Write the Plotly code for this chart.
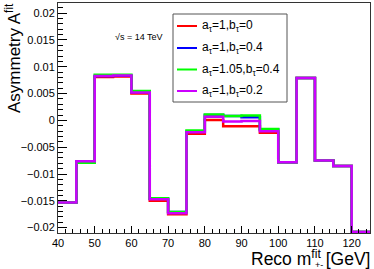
import plotly.graph_objects as go

# ---- data ----
bin_edges = [40, 45, 50, 55, 60, 65, 70, 75, 80, 85, 90, 95, 100, 105, 110, 115, 120, 125]
red_vals = [-0.0153, -0.0077, 0.0081, 0.0082, 0.0050, -0.0150, -0.0175, -0.0025, 0.0001,
            -0.0011, -0.0011, -0.0023, -0.0078, 0.0079, -0.0075, -0.0085, -0.0208]
blue_vals = [-0.0153, -0.0077, 0.0083, 0.0084, 0.0053, -0.0146, -0.0171, -0.0021, 0.0010,
             0.0008, 0.0006, -0.0017, -0.0078, 0.0079, -0.0075, -0.0085, -0.0208]
green_vals = [-0.0153, -0.0079, 0.0085, 0.0085, 0.0055, -0.0145, -0.0171, -0.0019, 0.0011,
              0.0008, 0.0009, -0.0016, -0.0078, 0.0079, -0.0075, -0.0085, -0.0208]
magenta_vals = [-0.0153, -0.0076, 0.0083, 0.0084, 0.0052, -0.0147, -0.0173, -0.0022, 0.0007,
                -0.0002, -0.0001, -0.0020, -0.0078, 0.0079, -0.0075, -0.0085, -0.0208]

series_names = ["a<sub>τ</sub>=1,b<sub>τ</sub>=0",
                "a<sub>τ</sub>=1,b<sub>τ</sub>=0.4",
                "a<sub>τ</sub>=1.05,b<sub>τ</sub>=0.4",
                "a<sub>τ</sub>=1,b<sub>τ</sub>=0.2"]
series_vals = [red_vals, blue_vals, green_vals, magenta_vals]
series_colors = ["#ff0000", "#0000ff", "#00ff00", "#cc00ff"]

y_tickvals = [-0.02, -0.015, -0.01, -0.005, 0, 0.005, 0.01, 0.015, 0.02]
y_ticktext = ["\u22120.02", "\u22120.015", "\u22120.01", "\u22120.005", "0",
              "0.005", "0.01", "0.015", "0.02"]
x_tickvals = [40, 50, 60, 70, 80, 90, 100, 110, 120]

FONT = "Liberation Sans, Arial, Helvetica, sans-serif"
W, H = 374, 269
L, R, T, B = 58, 4, 3, 36
PW, PH = W - L - R, H - T - B


def px_x(px):
    return (px - L) / PW


def px_y(py):
    return (H - B - py) / PH


fig = go.Figure()
for name, vals, col in zip(series_names, series_vals, series_colors):
    fig.add_trace(go.Scatter(
        x=bin_edges, y=vals + [vals[-1]], mode="lines", line_shape="hv",
        line=dict(color=col, width=2.5), name=name, showlegend=False,
        hoverinfo="skip"))

fig.update_layout(
    width=W, height=H, margin=dict(l=L, r=R, t=T, b=B, pad=0),
    paper_bgcolor="white", plot_bgcolor="white",
    font=dict(family=FONT, size=11, color="black"),
    showlegend=False,
)
fig.update_xaxes(
    range=[40, 125], showgrid=False, zeroline=False,
    showline=True, linecolor="#333333", linewidth=1, mirror=True,
    ticks="inside", ticklen=7, tickcolor="black", tickwidth=1,
    tickvals=x_tickvals, tickfont=dict(size=11),
    minor=dict(ticks="inside", ticklen=4, dtick=2, tick0=40, tickcolor="black", showgrid=False),
)
fig.update_yaxes(
    range=[-0.021, 0.0219], showgrid=False, zeroline=False,
    showline=True, linecolor="#333333", linewidth=1, mirror=True,
    ticks="inside", ticklen=9, tickcolor="black", tickwidth=1,
    tickvals=y_tickvals, ticktext=y_ticktext, tickfont=dict(size=11),
    minor=dict(ticks="inside", ticklen=5, dtick=0.001, tick0=0, tickcolor="black", showgrid=False),
)

annotations = []
# y-axis title
annotations.append(dict(
    text="Asymmetry A<sup>fit</sup>", textangle=-90, xref="paper", yref="paper",
    x=px_x(13), y=px_y(1), xanchor="center", yanchor="top", showarrow=False,
    font=dict(size=17, family=FONT)))
# x-axis title
annotations.append(dict(
    text="Reco m<sup>fit</sup> [GeV]", xref="paper", yref="paper",
    x=px_x(372), y=px_y(271), xanchor="right", yanchor="bottom", showarrow=False,
    font=dict(size=17.5, family=FONT)))
annotations.append(dict(
    text="+-", xref="paper", yref="paper",
    x=px_x(313), y=px_y(272), xanchor="left", yanchor="bottom", showarrow=False,
    font=dict(size=9, family=FONT)))
# energy label
annotations.append(dict(
    text="\u221As = 14 TeV", xref="paper", yref="paper",
    x=px_x(165), y=px_y(37), xanchor="right", yanchor="middle", showarrow=False,
    font=dict(size=9, family=FONT)))

shapes = []
# legend box
lx0, lx1, ly0, ly1 = 173, 287, 14, 102
shapes.append(dict(type="rect", xref="paper", yref="paper",
                   x0=px_x(lx0), x1=px_x(lx1), y0=px_y(ly1), y1=px_y(ly0),
                   line=dict(color="#555555", width=1), fillcolor="white", layer="above"))
entry_y = [26, 48, 69.5, 91]
for name, col, ey in zip(series_names, series_colors, entry_y):
    shapes.append(dict(type="line", xref="paper", yref="paper",
                       x0=px_x(177), x1=px_x(197), y0=px_y(ey), y1=px_y(ey),
                       line=dict(color=col, width=2), layer="above"))
    annotations.append(dict(
        text=name, xref="paper", yref="paper",
        x=px_x(200), y=px_y(ey), xanchor="left", yanchor="middle", showarrow=False,
        font=dict(size=12, family=FONT)))

fig.update_layout(annotations=annotations, shapes=shapes)
fig.write_html("out.html", config={"displayModeBar": False},
               post_script="document.body.style.margin='0';document.body.style.overflow='hidden';")
